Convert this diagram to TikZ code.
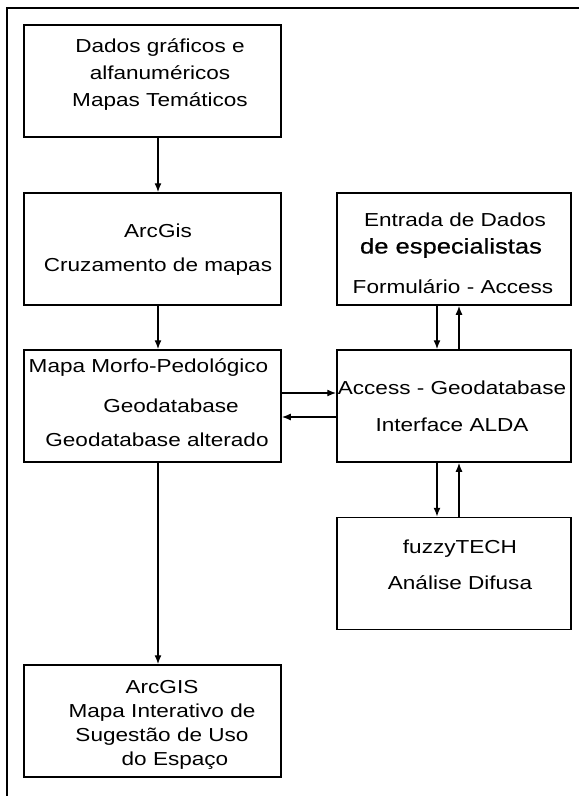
\documentclass[tikz,border=0pt]{standalone}
\usepackage{fontspec}
\setmainfont{Liberation Sans}[FakeStretch=1.2]
\newfontfamily\espfont{Liberation Sans}[FakeStretch=1.2,FakeBold=0.6]
\usetikzlibrary{arrows.meta}
\begin{document}
\begin{tikzpicture}[x=1pt, y=-1pt, every node/.style={font=\fontsize{18.8}{27}\selectfont}]
  \tikzstyle{etapa}=[draw,line width=1.5pt,minimum width=257pt,minimum height=112pt,inner sep=0pt]
  \tikzstyle{etapad}=[etapa,minimum width=234pt]
  \tikzstyle{txt}=[align=center,inner sep=0pt]
  \tikzstyle{seta}=[-{Latex[length=9pt,width=7pt]},line width=1.4pt]
  \useasboundingbox (0,0) rectangle (579,796);
  \draw[line width=2.2pt] (7,796) -- (7,8) -- (579,8);
  % coluna da esquerda
  \node[etapa] (dados) at (152.5,81) {};
  \node[etapa] (arcgis) at (152.5,249) {};
  \node[etapa] (mapa) at (152.5,406) {};
  \node[etapa] (sugestao) at (152.5,721) {};
  % coluna da direita
  \node[etapad] (entrada) at (454,249) {};
  \node[etapad] (access) at (454,406) {};
  \node[etapad] (fuzzy) at (454,573.5) {};
  % textos
  \node[txt] (dados-t) at (160,75) {Dados gráficos e\\alfanuméricos\\Mapas Temáticos};
  \node[txt,font=\fontsize{18.8}{34}\selectfont] (arcgis-t) at (158,250) {ArcGis\\Cruzamento de mapas};
  \node[txt] (mapa-t1) at (148.5,368) {Mapa Morfo-Pedológico};
  \node[txt] (mapa-t2) at (171,406) {Geodatabase};
  \node[txt] (mapa-t3) at (157,440) {Geodatabase alterado};
  \node[txt] (entrada-t1) at (455,220) {Entrada de Dados};
  \node[txt,font=\fontsize{21.3}{27}\espfont] (entrada-t2) at (451,248) {de especialistas};
  \node[txt] (entrada-t3) at (453,287) {Formulário - Access};
  \node[txt,font=\fontsize{18.8}{37}\selectfont] (access-t) at (452,406.5) {Access - Geodatabase\\Interface ALDA};
  \node[txt,font=\fontsize{18.8}{36}\selectfont] (fuzzy-t) at (460,565) {fuzzyTECH\\Análise Difusa};
  \node[txt,font=\fontsize{18.8}{24}\selectfont] (sugestao-t) at (162,724.5) {ArcGIS\\Mapa Interativo de\\Sugestão de Uso\\\hspace*{26pt}do Espaço};
  % setas
  \draw[seta] ([xshift=5.5pt]dados.south) -- ([xshift=5.5pt]arcgis.north);
  \draw[seta] ([xshift=5.5pt]arcgis.south) -- ([xshift=5.5pt]mapa.north);
  \draw[seta] ([xshift=5.5pt]mapa.south) -- ([xshift=5.5pt]sugestao.north);
  \draw[seta] ([yshift=13pt]mapa.east) -- ([yshift=13pt]access.west);
  \draw[seta] ([yshift=-11pt]access.west) -- ([yshift=-11pt]mapa.east);
  \draw[seta] ([xshift=-17pt]entrada.south) -- ([xshift=-17pt]access.north);
  \draw[seta] ([xshift=5pt]access.north) -- ([xshift=5pt]entrada.south);
  \draw[seta] ([xshift=-17pt]access.south) -- ([xshift=-17pt]fuzzy.north);
  \draw[seta] ([xshift=5pt]fuzzy.north) -- ([xshift=5pt]access.south);
\end{tikzpicture}
\end{document}
